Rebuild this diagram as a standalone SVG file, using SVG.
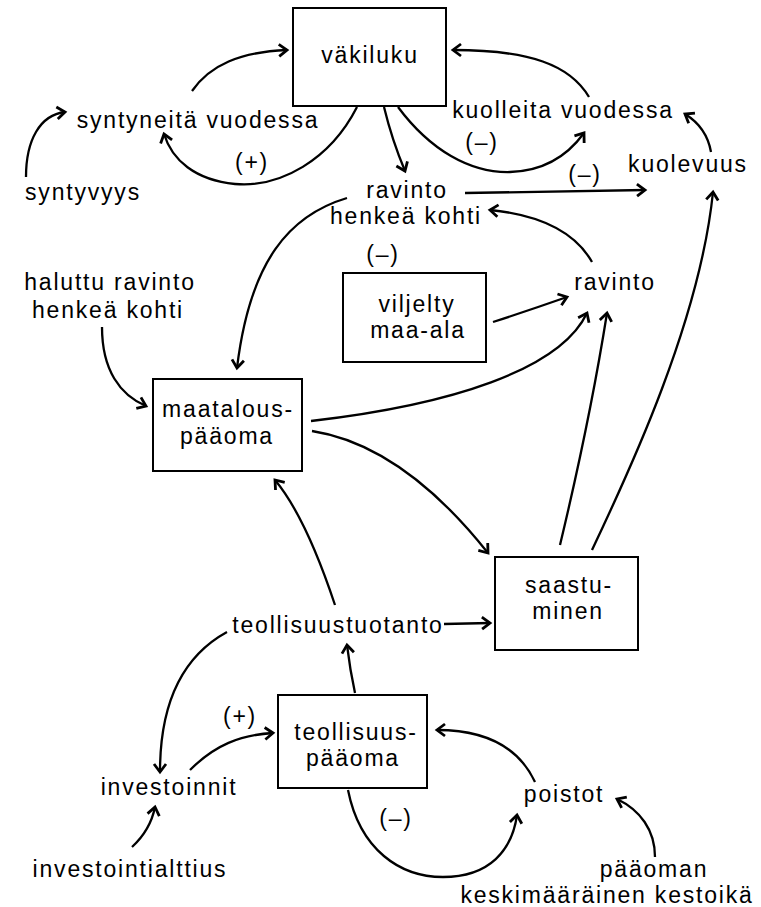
<svg xmlns="http://www.w3.org/2000/svg" width="761" height="907" viewBox="0 0 761 907">
<style>
  text { font-family: "Liberation Sans", Arial, sans-serif; font-size: 23px; letter-spacing: 1.8px; fill: #000; text-anchor: middle; }
  .box { fill: #fff; stroke: #000; stroke-width: 2; }
  .c { fill: none; stroke: #000; stroke-width: 2.3; marker-end: url(#ah); }
</style>
<defs>
  <marker id="ah" markerUnits="userSpaceOnUse" viewBox="-12 -8 16 16" markerWidth="16" markerHeight="16" refX="0" refY="0" orient="auto">
    <path d="M-8,-6 L0,0 L-8,6" fill="none" stroke="#000" stroke-width="2.8" stroke-linejoin="miter"/>
  </marker>
</defs>
<rect width="761" height="907" fill="#fff"/>

<g id="connectors">
  <path class="c" d="M192,91 C210,65 240,52 287,50"/>
  <path class="c" d="M357,107 C330,160 280,188 235,184 C195,180 172,160 164,134"/>
  <path class="c" d="M26,177 C26,140 40,115 65,112"/>
  <path class="c" d="M589,97 C570,65 530,50 453,50"/>
  <path class="c" d="M398,107 C430,150 470,173 510,172 C545,171 568,155 584,133"/>
  <path class="c" d="M384,107 Q392,140 405,171"/>
  <path class="c" d="M711,152 C708,135 698,122 685,114"/>
  <path class="c" d="M465,193 L645,190"/>
  <path class="c" d="M592,262 C575,232 540,215 490,210"/>
  <path class="c" d="M592,550 C630,470 700,320 713,192"/>
  <path class="c" d="M560,545 Q590,420 607,313"/>
  <path class="c" d="M493,322 Q530,310 567,297"/>
  <path class="c" d="M311,421 C450,405 560,370 587,313"/>
  <path class="c" d="M312,431 C370,440 430,480 488,553"/>
  <path class="c" d="M347,198 C290,215 250,260 237,368"/>
  <path class="c" d="M102,327 C102,370 120,395 146,406"/>
  <path class="c" d="M335,605 C320,560 300,510 275,480"/>
  <path class="c" d="M444,624 L490,623"/>
  <path class="c" d="M355,693 Q350,670 347,645"/>
  <path class="c" d="M227,632 C185,655 160,700 160,772"/>
  <path class="c" d="M190,770 C215,745 240,735 273,733"/>
  <path class="c" d="M132,847 C145,835 152,822 155,807"/>
  <path class="c" d="M535,782 C520,750 490,730 437,730"/>
  <path class="c" d="M348,790 C360,850 400,877 443,877 C490,877 512,850 517,815"/>
  <path class="c" d="M655,857 C655,830 640,810 617,799"/>
</g>

<g id="vakiluku">
  <rect class="box" x="293" y="8" width="153" height="98"/>
  <text x="370" y="63">väkiluku</text>
</g>
<g id="syntyneita">
  <text x="198" y="128">syntyneitä vuodessa</text>
</g>
<g id="syntyvyys">
  <text x="83" y="200">syntyvyys</text>
</g>
<g id="kuolleita">
  <text x="563" y="118">kuolleita vuodessa</text>
</g>
<g id="kuolevuus">
  <text x="688" y="172">kuolevuus</text>
</g>
<g id="ravinto-henkea">
  <text x="407" y="198">ravinto</text>
  <text x="406" y="224">henkeä kohti</text>
</g>
<g id="viljelty">
  <rect class="box" x="343" y="273" width="143" height="89"/>
  <text x="417" y="312">viljelty</text>
  <text x="418" y="338">maa-ala</text>
</g>
<g id="ravinto">
  <text x="615" y="290">ravinto</text>
</g>
<g id="haluttu">
  <text x="110" y="290">haluttu ravinto</text>
  <text x="108" y="318">henkeä kohti</text>
</g>
<g id="maatalous">
  <rect class="box" x="153" y="379" width="149" height="92"/>
  <text x="228" y="417">maatalous-</text>
  <text x="227" y="444">pääoma</text>
</g>
<g id="saastuminen">
  <rect class="box" x="495" y="557" width="143" height="93"/>
  <text x="569" y="593">saastu-</text>
  <text x="568" y="619">minen</text>
</g>
<g id="teollisuustuotanto">
  <text x="338" y="633">teollisuustuotanto</text>
</g>
<g id="teollisuuspaaoma">
  <rect class="box" x="278" y="695" width="149" height="93"/>
  <text x="356" y="740">teollisuus-</text>
  <text x="353" y="766">pääoma</text>
</g>
<g id="investoinnit">
  <text x="169" y="795">investoinnit</text>
</g>
<g id="investointialttius">
  <text x="130" y="877">investointialttius</text>
</g>
<g id="poistot">
  <text x="564" y="802">poistot</text>
</g>
<g id="kestoika">
  <text x="654" y="877">pääoman</text>
  <text x="607" y="903">keskimääräinen kestoikä</text>
</g>
<g id="signs">
  <text x="252" y="170">(+)</text>
  <text x="482" y="150">(–)</text>
  <text x="585" y="182">(–)</text>
  <text x="383" y="262">(–)</text>
  <text x="240" y="724">(+)</text>
  <text x="396" y="826">(–)</text>
</g>
</svg>
